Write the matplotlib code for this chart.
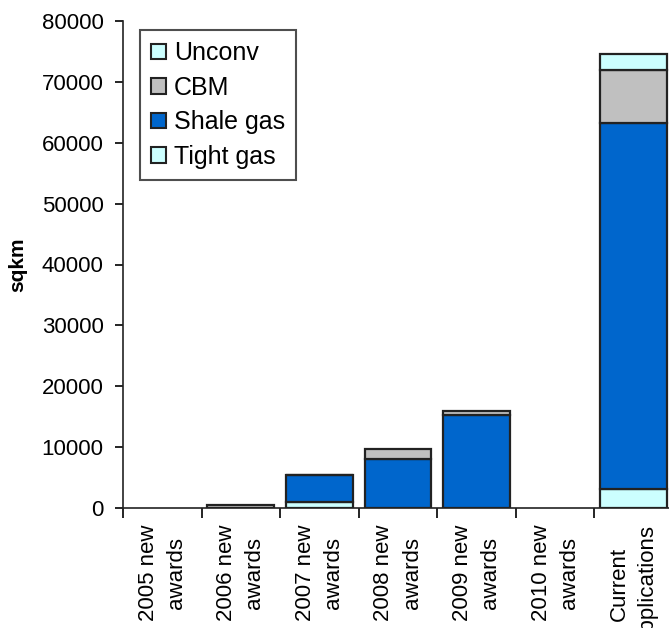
import matplotlib
matplotlib.use("Agg")
import matplotlib.pyplot as plt
import numpy as np
from matplotlib.patches import Patch

plt.rcParams['font.family'] = ['Liberation Sans', 'DejaVu Sans']

categories = ["2005 new\nawards", "2006 new\nawards", "2007 new\nawards",
              "2008 new\nawards", "2009 new\nawards", "2010 new\nawards",
              "Current\napplications"]
tight_gas = [0, 0, 1000, 0, 0, 0, 3200]
shale_gas = [0, 0, 4400, 8000, 15300, 0, 60100]
cbm = [0, 500, 100, 1700, 700, 0, 8700]
unconv = [0, 0, 0, 0, 0, 0, 2500]

series = [("Tight gas", tight_gas, "#CCFFFF"),
          ("Shale gas", shale_gas, "#0066CC"),
          ("CBM", cbm, "#C0C0C0"),
          ("Unconv", unconv, "#CCFFFF")]

fig = plt.figure(figsize=(6.69, 6.28), dpi=100)
ax = fig.add_axes([123/669, 120/628, 550/669, 487/628])

x = np.arange(len(categories))
bottom = np.zeros(len(categories))
for name, vals, col in series:
    v = np.array(vals, dtype=float)
    nz = v > 0  # empty segments get no outline
    ax.bar(x[nz], v[nz], bottom=bottom[nz], width=0.85, color=col,
           edgecolor="#222222", linewidth=1.6, label=name)
    bottom += v

ax.set_xlim(-0.5, len(categories) - 0.5)
ax.set_ylim(0, 80000)
ax.set_yticks(np.arange(0, 80001, 10000))
ax.tick_params(axis='y', labelsize=16, direction='out', length=6, width=1.2, pad=8)

ax.set_xticks(x)
ax.set_xticklabels(categories, rotation=90, fontsize=16,
                   multialignment='center', linespacing=1.45)
ax.set_xticks(np.arange(-0.5, len(categories)), minor=True)
ax.tick_params(axis='x', which='major', length=0, pad=12)
ax.tick_params(axis='x', which='minor', length=7, width=1.2, direction='out')

for s in ['top', 'right']:
    ax.spines[s].set_visible(False)
for s in ['left', 'bottom']:
    ax.spines[s].set_linewidth(1.2)
    ax.spines[s].set_color("#222222")

ax.set_ylabel("sqkm", fontsize=15, fontweight='bold', labelpad=10)

handles = [Patch(facecolor=c, edgecolor="#222222", linewidth=1.5, label=n)
           for n, _, c in reversed(series)]
leg = ax.legend(handles=handles, loc='upper left', bbox_to_anchor=(17/550, 1 - 9/487),
                fontsize=18, frameon=True, fancybox=False, edgecolor="#222222",
                handlelength=0.6, handleheight=0.6, handletextpad=0.3,
                labelspacing=0.42, borderpad=0.45, borderaxespad=0)
leg.get_frame().set_linewidth(1.5)

fig.savefig("out.png", dpi=100)
